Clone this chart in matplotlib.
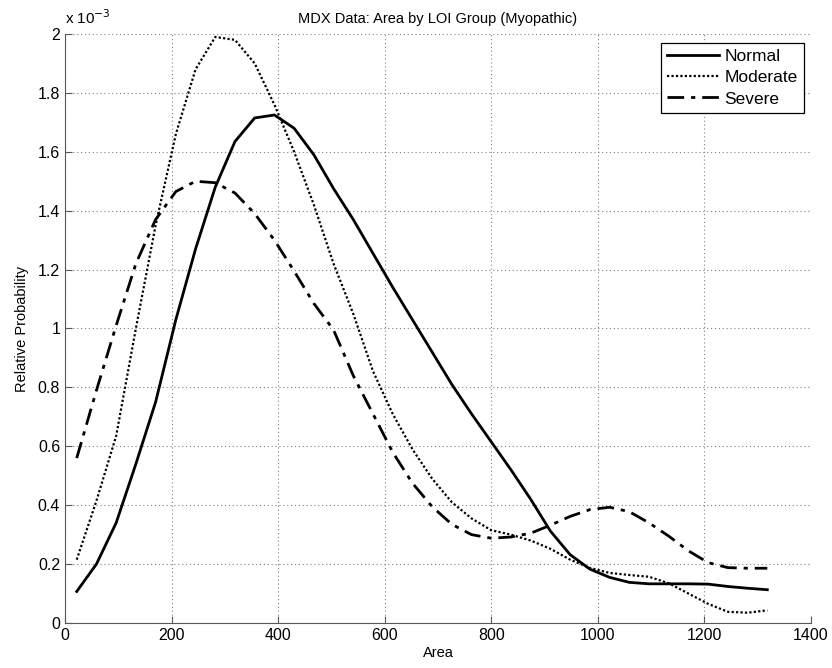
# MDX data: relative probability of fibre area for each LOI group (myopathic)
import matplotlib
matplotlib.use("Agg")
import matplotlib.pyplot as plt
from matplotlib.ticker import FormatStrFormatter, MultipleLocator

# area values where the curves were sampled
area = [22, 59, 96, 133, 170, 208, 245, 282, 319, 356, 393, 430,
        467, 504, 541, 578, 615, 652, 689, 726, 763, 800, 837, 874,
        911, 948, 985, 1022, 1059, 1096, 1133, 1170, 1207, 1244, 1281, 1318]

# relative probability, in units of 1e-3
normal = [0.107, 0.20, 0.34, 0.54, 0.75, 1.03, 1.27, 1.48, 1.635, 1.715, 1.725, 1.68,
          1.59, 1.475, 1.37, 1.255, 1.14, 1.03, 0.92, 0.81, 0.71, 0.615, 0.52, 0.42,
          0.312, 0.232, 0.183, 0.155, 0.138, 0.133, 0.133, 0.133, 0.132, 0.124, 0.118, 0.113]
moderate = [0.215, 0.415, 0.635, 1.00, 1.35, 1.66, 1.88, 1.99, 1.98, 1.90, 1.76, 1.60,
            1.42, 1.22, 1.05, 0.855, 0.71, 0.59, 0.49, 0.41, 0.355, 0.315, 0.30, 0.28,
            0.252, 0.215, 0.187, 0.17, 0.163, 0.157, 0.135, 0.10, 0.065, 0.038, 0.035, 0.043]
severe = [0.56, 0.79, 1.01, 1.22, 1.37, 1.465, 1.50, 1.495, 1.46, 1.39, 1.30, 1.195,
          1.085, 0.995, 0.84, 0.71, 0.58, 0.475, 0.395, 0.335, 0.30, 0.288, 0.292, 0.305,
          0.332, 0.362, 0.385, 0.393, 0.378, 0.34, 0.295, 0.245, 0.205, 0.188, 0.186, 0.186]

plt.rcParams["font.family"] = ["Liberation Sans", "DejaVu Sans"]
plt.rcParams["font.size"] = 10.5

fig = plt.figure(figsize=(8.32, 6.68), dpi=100)
ax = fig.add_axes([65 / 832, 45 / 668, 746 / 832, 589 / 668])

ax.plot(area, normal, color="black", linestyle="-", linewidth=2.0, label="Normal")
ax.plot(area, moderate, color="black", linestyle=(0, (1, 1)), linewidth=1.6, label="Moderate")
ax.plot(area, severe, color="black", linestyle=(0, (6, 2.5, 1.5, 2.5)), linewidth=2.0, label="Severe")

ax.set_xlim(0, 1400)
ax.set_ylim(0, 2)
ax.xaxis.set_major_locator(MultipleLocator(200))
ax.yaxis.set_major_locator(MultipleLocator(0.2))
ax.yaxis.set_major_formatter(FormatStrFormatter("%g"))

ax.grid(True, color="0.5", linestyle=(0, (1, 2.5)), linewidth=0.8)
for side in ["top", "right"]:
    ax.spines[side].set_visible(False)
for side in ["left", "bottom"]:
    ax.spines[side].set_color("0.35")
ax.tick_params(direction="in", length=5, color="0.35", labelsize=11.5)

ax.text(0.0, 1.012, r"x 10$^{-3}$", transform=ax.transAxes, fontsize=11, va="bottom", ha="left")

ax.set_title("MDX Data: Area by LOI Group (Myopathic)", fontsize=10.5, pad=8)
ax.set_xlabel("Area", fontsize=10.5, labelpad=2)
ax.set_ylabel("Relative Probability", fontsize=10.5, labelpad=6)

leg = ax.legend(loc="upper right", bbox_to_anchor=(0.99, 0.985), fancybox=False,
                edgecolor="black", framealpha=1, fontsize=12.5, handlelength=3.0,
                handletextpad=0.3, borderpad=0.35, labelspacing=0.35, borderaxespad=0)
leg.get_frame().set_linewidth(0.9)

plt.savefig("out.png", dpi=100)
